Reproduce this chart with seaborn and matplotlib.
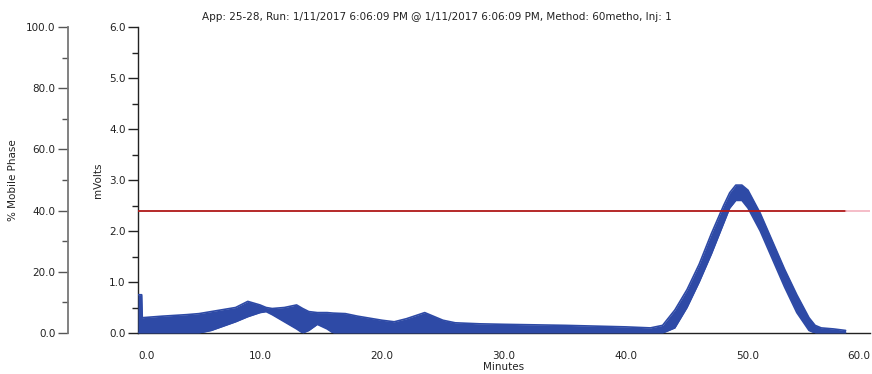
import numpy as np
import pandas as pd
import matplotlib
matplotlib.use("Agg")
import matplotlib.pyplot as plt
from matplotlib.ticker import MultipleLocator, FormatStrFormatter
import seaborn as sns

sns.set_theme(style="white")
plt.rcParams["font.family"] = ["DejaVu Sans"]

title = ("App: 25-28, Run: 1/11/2017 6:06:09 PM @ 1/11/2017 6:06:09 PM, "
         "Method: 60metho, Inj: 1")

# Detector trace (mVolts): noisy band given by its lower and upper envelope
trace_min = [0.0, 0.3, 0.35, 2, 4, 5, 6, 8, 9, 10, 10.5, 11, 12, 13, 13.5, 14,
             14.7, 15.5, 16, 17, 18, 20, 21, 22, 23, 23.5, 24, 25, 26, 28, 30,
             35, 40, 42, 43, 44, 45, 46, 47, 48, 48.5, 49, 49.5, 50, 51, 52,
             53, 54, 55, 55.5, 56, 57, 58]
trace_upper = [0.75, 0.75, 0.30, 0.33, 0.36, 0.38, 0.42, 0.50, 0.62, 0.55,
               0.50, 0.48, 0.50, 0.55, 0.48, 0.42, 0.40, 0.40, 0.39, 0.38,
               0.33, 0.25, 0.22, 0.28, 0.36, 0.40, 0.35, 0.25, 0.20, 0.18,
               0.17, 0.15, 0.12, 0.10, 0.15, 0.45, 0.85, 1.35, 1.95, 2.50,
               2.75, 2.90, 2.90, 2.80, 2.35, 1.80, 1.25, 0.75, 0.30, 0.15,
               0.10, 0.08, 0.05]
trace_lower = [0.0, 0.0, 0.0, 0.0, 0.0, 0.0, 0.05, 0.22, 0.32, 0.40, 0.42,
               0.36, 0.22, 0.08, 0.0, 0.05, 0.17, 0.08, 0.0, 0.0, 0.0, 0.0,
               0.0, 0.0, 0.0, 0.0, 0.0, 0.0, 0.0, 0.0, 0.0, 0.0, 0.0, 0.0,
               0.0, 0.10, 0.50, 1.00, 1.55, 2.15, 2.45, 2.60, 2.60, 2.45,
               2.00, 1.45, 0.90, 0.40, 0.05, 0.0, 0.0, 0.0, 0.0]

# Gradient program (% mobile phase)
gradient_min = [0.0, 58.0]
gradient_pct = [40.0, 40.0]
gradient_tail_min = [58.0, 60.0]
gradient_tail_pct = [40.0, 40.0]

# Time axis ticks
minute_ticks = [0, 10, 20, 30, 40, 50, 60]
minute_labels = ["0.0", "10.0", "20.0", "30.0", "40.0", "50.0", "60.0"]

W, H = 872, 374
fig = plt.figure(figsize=(W / 100, H / 100), dpi=100)
ax = fig.add_axes([138 / W, (H - 333) / H, (870 - 138) / W, (333 - 27) / H])

trace = pd.DataFrame({"Minutes": trace_min, "upper": trace_upper,
                      "lower": trace_lower})
blue = "#2e4aa6"
ax.fill_between(trace["Minutes"], trace["lower"], trace["upper"],
                color=blue, linewidth=0, zorder=3)
sns.lineplot(data=trace, x="Minutes", y="upper", ax=ax, color=blue,
             linewidth=1.2, zorder=3)
sns.lineplot(data=trace, x="Minutes", y="lower", ax=ax, color=blue,
             linewidth=1.2, zorder=3)

# Mobile phase scale on a second left-hand axis
ax2 = ax.twinx()
grad = pd.DataFrame({"Minutes": gradient_min, "pct": gradient_pct})
tail = pd.DataFrame({"Minutes": gradient_tail_min, "pct": gradient_tail_pct})
sns.lineplot(data=grad, x="Minutes", y="pct", ax=ax2, color="#b01818",
             linewidth=1.3, zorder=4)
sns.lineplot(data=tail, x="Minutes", y="pct", ax=ax2, color="#f4b8c4",
             linewidth=1.3, zorder=4)
ax2.set_xlabel("")

# ---- main (mVolts) axis styling
ax.set_xticks(minute_ticks)
ax.set_xticklabels(minute_labels)
ax.xaxis.set_minor_locator(MultipleLocator(5))
ax.yaxis.set_major_locator(MultipleLocator(1))
ax.yaxis.set_minor_locator(MultipleLocator(0.5))
ax.yaxis.set_major_formatter(FormatStrFormatter("%.1f"))
for side in ("top", "right"):
    ax.spines[side].set_visible(False)
for side in ("left", "bottom"):
    ax.spines[side].set_color("#222222")
    ax.spines[side].set_linewidth(1.0)
ax.tick_params(axis="both", which="both", direction="out", colors="#222222",
               labelsize=7.5, width=1.0)
ax.tick_params(axis="both", which="major", length=7)
ax.tick_params(axis="both", which="minor", length=4)
ax.tick_params(axis="y", which="major", pad=2)
ax.tick_params(axis="x", which="major", pad=6)
ax.set_xlabel("Minutes", fontsize=7.5, color="#222222", labelpad=1)
ax.set_ylabel("mVolts", fontsize=7.5, color="#222222", labelpad=4)
ax.grid(False)

# end labels of the time axis stay inside the figure
xt = ax.get_xticklabels()
xt[0].set_horizontalalignment("left")
xt[-1].set_horizontalalignment("right")

# ---- mobile phase axis styling
ax2.yaxis.set_label_position("left")
ax2.yaxis.tick_left()
ax2.spines["left"].set_position(("axes", -(138 - 68) / (870 - 138)))
ax2.spines["left"].set_color("#777777")
ax2.spines["left"].set_linewidth(1.3)
for side in ("top", "right", "bottom"):
    ax2.spines[side].set_visible(False)
ax2.yaxis.set_major_locator(MultipleLocator(20))
ax2.yaxis.set_minor_locator(MultipleLocator(10))
ax2.yaxis.set_major_formatter(FormatStrFormatter("%.1f"))
ax2.tick_params(axis="y", which="both", direction="out", colors="#555555",
                labelcolor="#222222", labelsize=7.5, width=1.0)
ax2.tick_params(axis="y", which="major", length=7, pad=2)
ax2.tick_params(axis="y", which="minor", length=4)
ax2.set_ylabel("% Mobile Phase", fontsize=7.5, color="#222222", labelpad=6)
ax2.grid(False)

# fixed ranges for both scales
ax.set_ylim(0, 6)
ax2.set_ylim(0, 100)
ax.set_xlim(0, 60)
ax2.set_xlim(0, 60)
ax.set_autoscale_on(False)
ax2.set_autoscale_on(False)

fig.text(437 / W, 1 - 17 / H, title, ha="center", va="center",
         fontsize=7.5, color="#222222")

fig.savefig("out.png", dpi=100, facecolor="white")
